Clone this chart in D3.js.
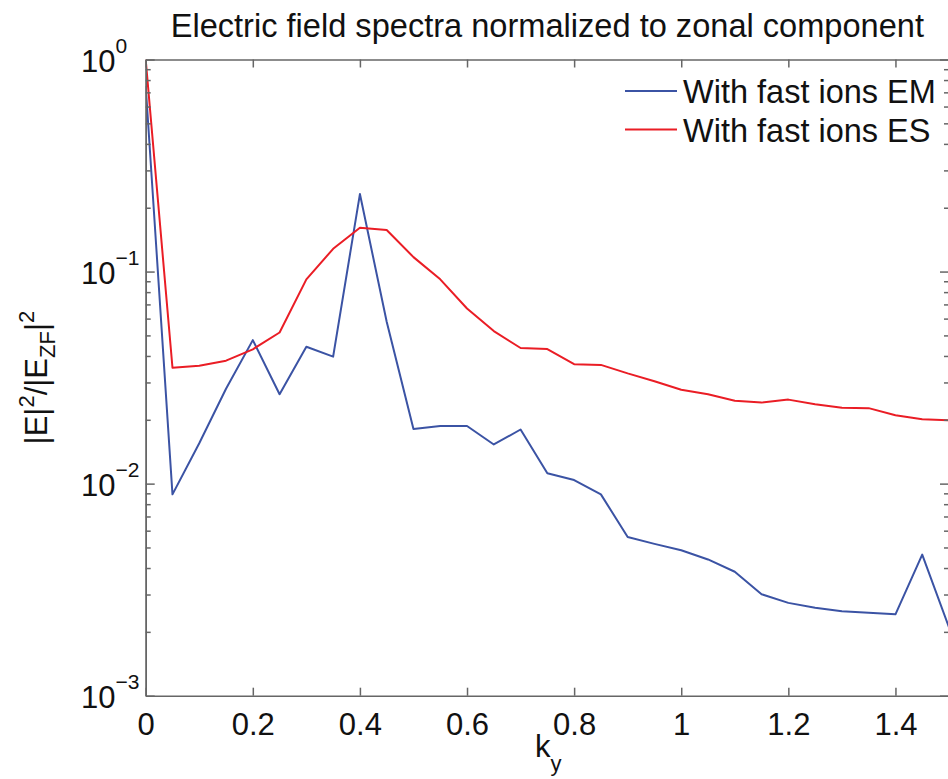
<!DOCTYPE html>
<html>
<head>
<meta charset="utf-8">
<script src="https://cdn.jsdelivr.net/npm/d3@7"></script>
<style>
	body { margin:0; background:#fff; }
	svg { display:block; font-family:"Liberation Sans", Arial, Helvetica, sans-serif; }
	.axis path, .axis line { stroke:#666; stroke-width:1.5; }
	.axis text { fill:#111; }
	.line { fill:none; stroke-width:2; stroke-linejoin:round; }
</style>
</head>
<body>
<div id="svgContainer"></div>
<script>
// data
var kValues = [0, 0.05, 0.1, 0.15, 0.2, 0.25, 0.3, 0.35, 0.4, 0.45,
	0.5, 0.55, 0.6, 0.65, 0.7, 0.75, 0.8, 0.85, 0.9, 0.95,
	1.0, 1.05, 1.1, 1.15, 1.2, 1.25, 1.3, 1.35, 1.4, 1.45, 1.5];
var emValues = [0.75, 0.0089, 0.0155, 0.028, 0.0475, 0.0264, 0.0442, 0.0397, 0.232, 0.058,
	0.0181, 0.0187, 0.0187, 0.0153, 0.018, 0.0112, 0.0104, 0.0089, 0.0056, 0.0052,
	0.00485, 0.00439, 0.00384, 0.00301, 0.00274, 0.0026, 0.0025, 0.00246, 0.00242, 0.00463, 0.0021];
var esValues = [1.0, 0.0352, 0.036, 0.038, 0.043, 0.0516, 0.0919, 0.128, 0.161, 0.157,
	0.117, 0.0919, 0.067, 0.0524, 0.0436, 0.0431, 0.0366, 0.0363, 0.0331, 0.0304,
	0.0277, 0.0264, 0.0246, 0.0241, 0.0249, 0.0237, 0.0228, 0.0227, 0.021, 0.0201, 0.0199];
var seriesNames = ["With fast ions EM", "With fast ions ES"];
var seriesColors = ["#3b53a4", "#ea1d25"];
var xTicks = [0, 0.2, 0.4, 0.6, 0.8, 1, 1.2, 1.4];
var yTicks = [1e-3, 1e-2, 1e-1, 1];
var yExponents = ["\u22123", "\u22122", "\u22121", "0"];

const width = 948, height = 779;
const plot = {left:145.7, right:949, top:59.5, bottom:695.7};

var xScale = d3.scaleLinear().domain([0, 1.5]).range([plot.left, plot.right]);
var yScale = d3.scaleLog().domain([1e-3, 1]).range([plot.bottom, plot.top]);

var svg = d3.select("#svgContainer").append("svg")
	.attr("width", width)
	.attr("height", height);

// minor log ticks 2..9 in every decade
var minorTicks = [];
yTicks.slice(0, 3).forEach(function (d) {
	for (var m = 2; m <= 9; m++) minorTicks.push(d * m);
});

// series
var lineFunction = d3.line()
	.x(function (d) { return xScale(d.k); })
	.y(function (d) { return yScale(d.v); });

var series = [emValues, esValues].map(function (vals) {
	return vals.map(function (v, i) { return {k: kValues[i], v: v}; });
});

svg.append("defs").append("clipPath").attr("id", "clip")
	.append("rect")
	.attr("x", plot.left).attr("y", plot.top - 2)
	.attr("width", plot.right - plot.left).attr("height", plot.bottom - plot.top + 2);

svg.append("g").attr("clip-path", "url(#clip)")
	.selectAll("path")
	.data(series)
	.enter()
	.append("path")
	.attr("class", "line")
	.attr("stroke", function (d, i) { return seriesColors[i]; })
	.attr("d", lineFunction);

// axes (ticks point inward, like matlab)
var xAxisBottom = d3.axisBottom(xScale).tickValues(xTicks).tickSizeInner(-8).tickSizeOuter(0).tickPadding(17)
	.tickFormat(function (d) { return d3.format("")(d); });
var xAxisTop = d3.axisTop(xScale).tickValues(xTicks).tickSizeInner(-8).tickSizeOuter(0).tickFormat("");

svg.append("g").attr("class", "x axis")
	.attr("transform", "translate(0," + plot.bottom + ")")
	.call(xAxisBottom)
	.selectAll("text").attr("font-size", 31);
svg.append("g").attr("class", "x axis")
	.attr("transform", "translate(0," + plot.top + ")")
	.call(xAxisTop);

svg.append("g").attr("class", "y axis")
	.attr("transform", "translate(" + plot.left + ",0)")
	.call(d3.axisLeft(yScale).tickValues(minorTicks).tickSizeInner(-5).tickSizeOuter(0).tickFormat(""));
svg.append("g").attr("class", "y axis")
	.attr("transform", "translate(" + plot.right + ",0)")
	.call(d3.axisRight(yScale).tickValues(minorTicks).tickSizeInner(-5).tickSizeOuter(0).tickFormat(""));
svg.append("g").attr("class", "y axis")
	.attr("transform", "translate(" + plot.right + ",0)")
	.call(d3.axisRight(yScale).tickValues(yTicks).tickSizeInner(-9).tickSizeOuter(0).tickFormat(""));

var yAxisG = svg.append("g").attr("class", "y axis")
	.attr("transform", "translate(" + plot.left + ",0)")
	.call(d3.axisLeft(yScale).tickValues(yTicks).tickSizeInner(-9).tickSizeOuter(0).tickFormat(""));

// power of ten labels with superscript
yAxisG.selectAll(".tick").each(function (d, i) {
	var t = d3.select(this).append("text")
		.attr("x", 81 - plot.left)
		.attr("y", 12)
		.attr("text-anchor", "start")
		.attr("font-size", 31)
		.text("10");
	t.append("tspan")
		.attr("dy", -19)
		.attr("font-size", 21)
		.text(yExponents[i]);
});

// title
svg.append("text")
	.attr("x", (plot.left + plot.right) / 2)
	.attr("y", 37)
	.attr("text-anchor", "middle")
	.attr("font-size", 32.6)
	.attr("fill", "#111")
	.text("Electric field spectra normalized to zonal component");

// x label k_y
var xl = svg.append("text")
	.attr("x", 535)
	.attr("y", 757)
	.attr("font-size", 31)
	.attr("fill", "#111")
	.text("k");
xl.append("tspan").attr("dy", 14).attr("font-size", 22).text("y");

// y label |E|^2/|E_ZF|^2
var yl = svg.append("text")
	.attr("transform", "translate(47," + ((plot.top + plot.bottom) / 2) + ") rotate(-90)")
	.attr("text-anchor", "middle")
	.attr("font-size", 31)
	.attr("fill", "#111");
yl.append("tspan").text("|E|");
yl.append("tspan").attr("dy", -13).attr("font-size", 22).text("2");
yl.append("tspan").attr("dy", 13).text("/|E");
yl.append("tspan").attr("dy", 8).attr("font-size", 22).text("ZF");
yl.append("tspan").attr("dy", -8).text("|");
yl.append("tspan").attr("dy", -13).attr("font-size", 22).text("2");

// legend, no box
var legend = svg.append("g").attr("class", "legend");
seriesNames.forEach(function (name, i) {
	var ly = 91 + i * 38.5;
	legend.append("line")
		.attr("x1", 625).attr("x2", 677)
		.attr("y1", ly).attr("y2", ly)
		.attr("stroke", seriesColors[i])
		.attr("stroke-width", 2);
	legend.append("text")
		.attr("x", 683)
		.attr("y", ly + 12)
		.attr("font-size", 32.5)
		.attr("fill", "#111")
		.text(name);
});
</script>
</body>
</html>
